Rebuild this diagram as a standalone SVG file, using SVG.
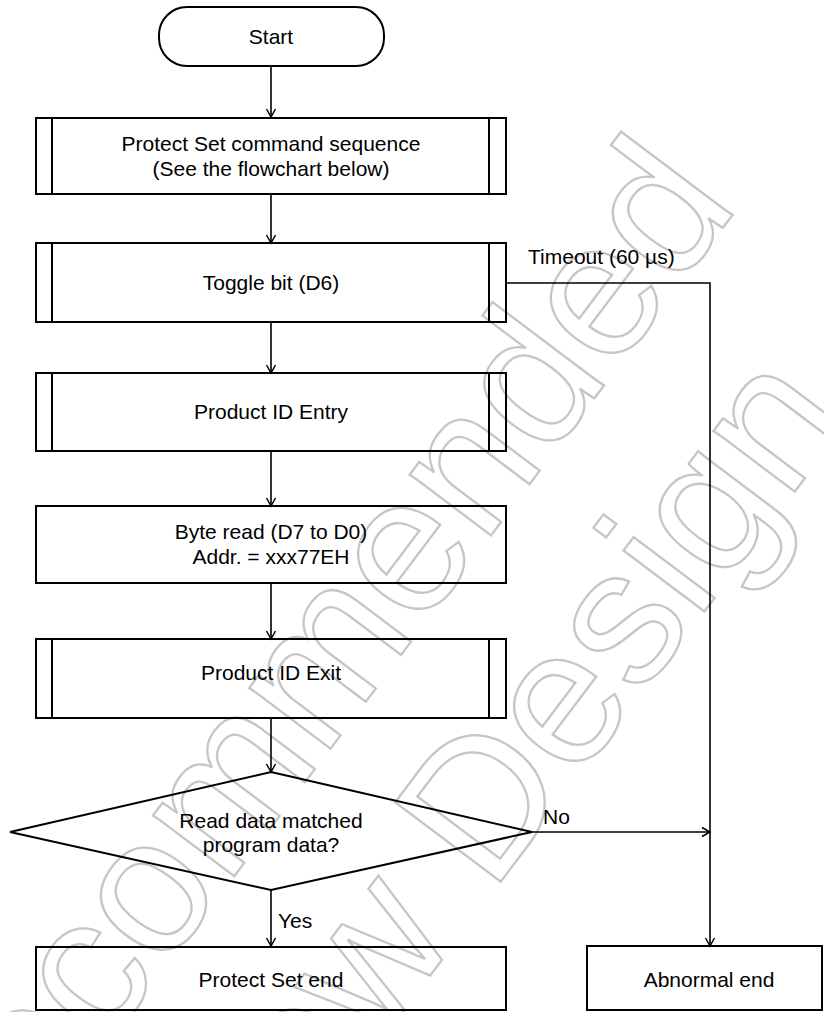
<svg xmlns="http://www.w3.org/2000/svg" width="824" height="1012" viewBox="0 0 824 1012">
<defs>
<style>
.box{fill:none;stroke:#000;stroke-width:2}
.ln{fill:none;stroke:#000;stroke-width:1.6}
.t{font-family:"Liberation Sans",Arial,sans-serif;font-size:21px;fill:#000}
.c{text-anchor:middle}
.wm{font-family:"Liberation Sans",Arial,sans-serif;font-size:192px;fill:none;stroke:#c6c6c6;stroke-width:2.3;text-anchor:end}
</style>
<marker id="ah" markerUnits="userSpaceOnUse" markerWidth="12" markerHeight="12" refX="10" refY="6" orient="auto">
<path d="M2,1.5 L10,6 L2,10.5" fill="none" stroke="#000" stroke-width="1.5"/>
</marker>
</defs>
<rect width="824" height="1012" fill="#fff"/>
<g id="watermark">
<text class="wm" transform="translate(740,205) rotate(-53)">Not Recommended</text>
<text class="wm" transform="translate(851,417) rotate(-53)">for New Design</text>
</g>
<g id="connectors">
<line class="ln" x1="271" y1="66" x2="271" y2="117" marker-end="url(#ah)"/>
<line class="ln" x1="271" y1="194" x2="271" y2="243" marker-end="url(#ah)"/>
<line class="ln" x1="271" y1="322" x2="271" y2="373" marker-end="url(#ah)"/>
<line class="ln" x1="271" y1="451" x2="271" y2="506" marker-end="url(#ah)"/>
<line class="ln" x1="271" y1="583" x2="271" y2="639" marker-end="url(#ah)"/>
<line class="ln" x1="271" y1="718" x2="271" y2="772" marker-end="url(#ah)"/>
<line class="ln" x1="271" y1="890" x2="271" y2="946" marker-end="url(#ah)"/>
<polyline class="ln" points="506,283 710,283 710,946" marker-end="url(#ah)"/>
<line class="ln" x1="532" y1="832" x2="710" y2="832" marker-end="url(#ah)"/>
<text class="t" x="528" y="264">Timeout (60 µs)</text>
<text class="t" x="543" y="824">No</text>
<text class="t" x="278" y="928">Yes</text>
</g>
<g id="start">
<rect class="box" x="159" y="7" width="225" height="59" rx="28" ry="28"/>
<text class="t c" x="271" y="44">Start</text>
</g>
<g id="protect-set-seq">
<rect class="box" x="36" y="118" width="470" height="76"/>
<line class="box" x1="52" y1="118" x2="52" y2="194"/>
<line class="box" x1="489" y1="118" x2="489" y2="194"/>
<text class="t c" x="271" y="151">Protect Set command sequence</text>
<text class="t c" x="271" y="176">(See the flowchart below)</text>
</g>
<g id="toggle-bit">
<rect class="box" x="36" y="243" width="470" height="79"/>
<line class="box" x1="52" y1="243" x2="52" y2="322"/>
<line class="box" x1="489" y1="243" x2="489" y2="322"/>
<text class="t c" x="271" y="290">Toggle bit (D6)</text>
</g>
<g id="product-id-entry">
<rect class="box" x="36" y="373" width="470" height="78"/>
<line class="box" x1="52" y1="373" x2="52" y2="451"/>
<line class="box" x1="489" y1="373" x2="489" y2="451"/>
<text class="t c" x="271" y="419">Product ID Entry</text>
</g>
<g id="byte-read">
<rect class="box" x="36" y="506" width="470" height="77"/>
<text class="t c" x="271" y="539">Byte read (D7 to D0)</text>
<text class="t c" x="271" y="564">Addr. = xxx77EH</text>
</g>
<g id="product-id-exit">
<rect class="box" x="36" y="639" width="470" height="79"/>
<line class="box" x1="52" y1="639" x2="52" y2="718"/>
<line class="box" x1="489" y1="639" x2="489" y2="718"/>
<text class="t c" x="271" y="680">Product ID Exit</text>
</g>
<g id="decision">
<polygon class="box" points="271,772 532,832 271,890 10,832"/>
<text class="t c" x="271" y="828">Read data matched</text>
<text class="t c" x="271" y="852">program data?</text>
</g>
<g id="protect-set-end">
<rect class="box" x="36" y="947" width="470" height="63"/>
<text class="t c" x="271" y="987">Protect Set end</text>
</g>
<g id="abnormal-end">
<rect class="box" x="587" y="946" width="235" height="64"/>
<text class="t c" x="709" y="987">Abnormal end</text>
</g>
</svg>
